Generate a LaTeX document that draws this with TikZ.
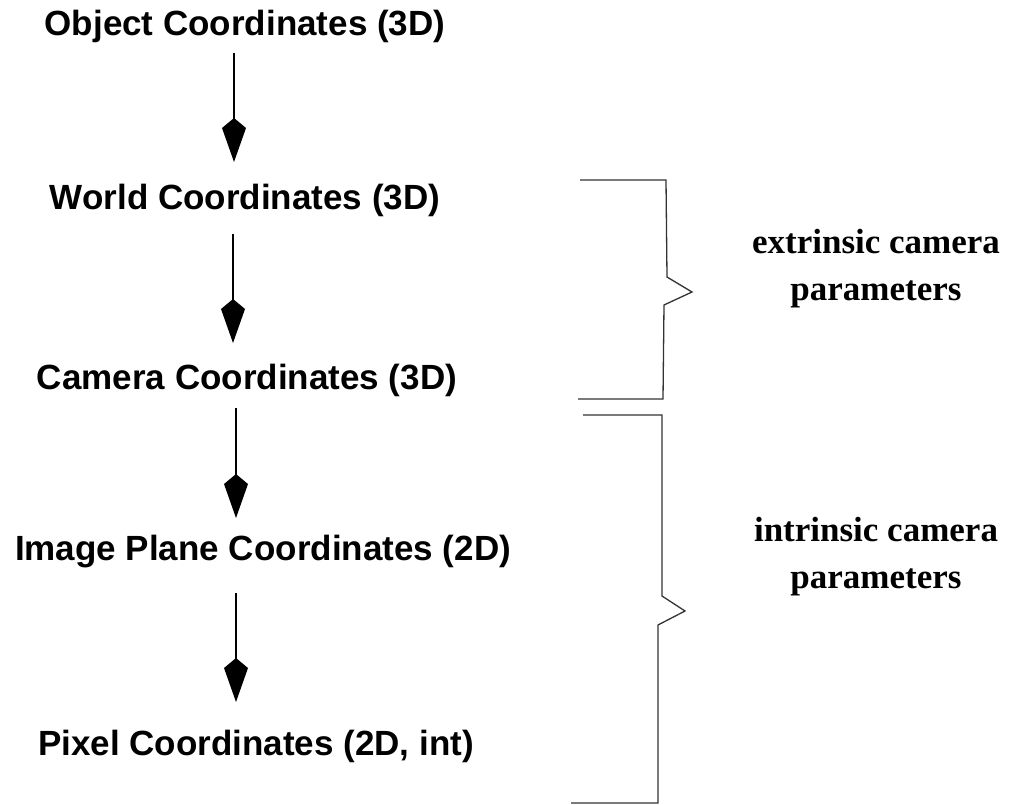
\documentclass[tikz,border=0pt]{standalone}
\usepackage{fontspec}
\setmainfont{Liberation Serif}
\setsansfont{Liberation Sans}
\usetikzlibrary{arrows.meta}
\begin{document}
\begin{tikzpicture}[x=1pt,y=-1pt,
  lbl/.style={font=\sffamily\bfseries\fontsize{35}{40}\selectfont, anchor=base, inner sep=0pt},
  side/.style={font=\rmfamily\bfseries\fontsize{35}{47}\selectfont, align=center, anchor=base, inner sep=0pt},
  arr/.style={line width=1.5pt, -{Kite[length=44pt,width=24pt,inset=10pt]}},
  brk/.style={line width=1.3pt, draw=black!80, line join=miter}]
\useasboundingbox (0,0) rectangle (1009,805);
\node[lbl] (obj) at (245,36) {Object Coordinates (3D)};
\node[lbl] (world) at (245,210) {World Coordinates (3D)};
\node[lbl] (cam) at (247,389) {Camera Coordinates (3D)};
\node[lbl] (img) at (263,560) {Image Plane Coordinates (2D)};
\node[lbl] (pix) at (256,755) {Pixel Coordinates (2D, int)};
\draw[arr] ([xshift=-11pt,yshift=-17pt]obj.base) -- ([xshift=-11pt,yshift=48pt]world.base);
\draw[arr] ([xshift=-12pt,yshift=-24pt]world.base) -- ([xshift=-14pt,yshift=46pt]cam.base);
\draw[arr] ([xshift=-11pt,yshift=-19pt]cam.base) -- ([xshift=-27pt,yshift=42pt]img.base);
\draw[arr] ([xshift=-27pt,yshift=-33pt]img.base) -- ([xshift=-20pt,yshift=53pt]pix.base);
\draw[brk] (580,180) -- (666,180) -- (667,277) -- (692,292) -- (664,305) -- (663,399) -- (578,399);
\draw[brk] (583,415) -- (662,415) -- (662,596) -- (685,611) -- (658,625) -- (658,803) -- (571,803);
\node[side] (ext) at (876,300) {extrinsic camera\\parameters};
\node[side] (int) at (876,588) {intrinsic camera\\parameters};
\end{tikzpicture}
\end{document}
